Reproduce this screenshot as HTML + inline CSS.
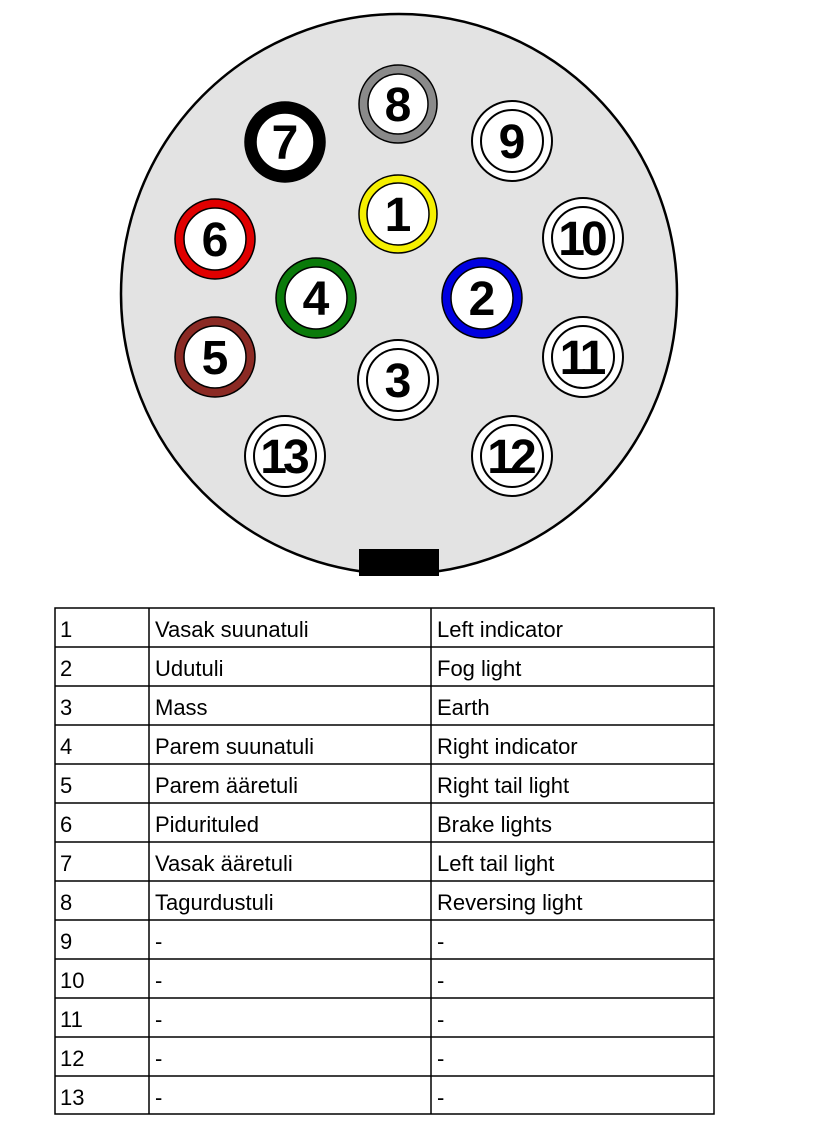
<!DOCTYPE html>
<html><head><meta charset="utf-8"><style>
html,body{margin:0;padding:0;background:#fff;width:834px;height:1143px;overflow:hidden}
</style></head><body>
<svg width="834" height="1143" viewBox="0 0 834 1143" xmlns="http://www.w3.org/2000/svg">
<ellipse cx="399" cy="294" rx="278" ry="280" fill="#e3e3e3" stroke="#000" stroke-width="2.5"/>
<rect x="359" y="549" width="80" height="27" fill="#000"/>
<g font-family="Liberation Sans, sans-serif" font-weight="bold" text-anchor="middle" fill="#000">
<g stroke="#000" stroke-width="1.5">
<circle cx="398" cy="104" r="39" fill="#8a8a8a"/><circle cx="398" cy="104" r="30" fill="#fff"/>
<circle cx="285" cy="142" r="40" fill="#000"/><circle cx="285" cy="142" r="29" fill="#fff"/>
<circle cx="398" cy="214" r="39" fill="#f5f000"/><circle cx="398" cy="214" r="31" fill="#fff"/>
<circle cx="215" cy="239" r="40" fill="#e00000"/><circle cx="215" cy="239" r="31" fill="#fff"/>
<circle cx="316" cy="298" r="40" fill="#0a7a0a"/><circle cx="316" cy="298" r="31" fill="#fff"/>
<circle cx="482" cy="298" r="40" fill="#0000e0"/><circle cx="482" cy="298" r="31" fill="#fff"/>
<circle cx="215" cy="357" r="40" fill="#8b2a24"/><circle cx="215" cy="357" r="31" fill="#fff"/>
</g>
<g stroke="#000" stroke-width="2" fill="#fff">
<circle cx="512" cy="141" r="40"/><circle cx="512" cy="141" r="31"/>
<circle cx="583" cy="238" r="40"/><circle cx="583" cy="238" r="31"/>
<circle cx="583" cy="357" r="40"/><circle cx="583" cy="357" r="31"/>
<circle cx="398" cy="380" r="40"/><circle cx="398" cy="380" r="31"/>
<circle cx="285" cy="456" r="40"/><circle cx="285" cy="456" r="31"/>
<circle cx="512" cy="456" r="40"/><circle cx="512" cy="456" r="31"/>
</g>
<g font-size="48">
<text x="398" y="121">8</text>
<text x="285" y="159">7</text>
<text x="512" y="158">9</text>
<text x="398" y="231">1</text>
<text x="215" y="256">6</text>
<text x="316" y="315">4</text>
<text x="482" y="315">2</text>
<text x="215" y="374">5</text>
<text x="398" y="397">3</text>
</g>
<g font-size="48" letter-spacing="-4">
<text x="581" y="255">10</text>
<text x="581" y="374">11</text>
<text x="283" y="473">13</text>
<text x="510" y="473">12</text>
</g>
</g>
<g stroke="#000" stroke-width="1.5" fill="none">
<rect x="55" y="608" width="659" height="506"/>
<line x1="149" y1="608" x2="149" y2="1114"/>
<line x1="431" y1="608" x2="431" y2="1114"/>
<line x1="55" y1="647" x2="714" y2="647"/>
<line x1="55" y1="686" x2="714" y2="686"/>
<line x1="55" y1="725" x2="714" y2="725"/>
<line x1="55" y1="764" x2="714" y2="764"/>
<line x1="55" y1="803" x2="714" y2="803"/>
<line x1="55" y1="842" x2="714" y2="842"/>
<line x1="55" y1="881" x2="714" y2="881"/>
<line x1="55" y1="920" x2="714" y2="920"/>
<line x1="55" y1="959" x2="714" y2="959"/>
<line x1="55" y1="998" x2="714" y2="998"/>
<line x1="55" y1="1037" x2="714" y2="1037"/>
<line x1="55" y1="1076" x2="714" y2="1076"/>
</g>
<g font-family="Liberation Sans, sans-serif" font-size="22" fill="#000">
<text x="60" y="637">1</text><text x="155" y="637">Vasak suunatuli</text><text x="437" y="637">Left indicator</text>
<text x="60" y="676">2</text><text x="155" y="676">Udutuli</text><text x="437" y="676">Fog light</text>
<text x="60" y="715">3</text><text x="155" y="715">Mass</text><text x="437" y="715">Earth</text>
<text x="60" y="754">4</text><text x="155" y="754">Parem suunatuli</text><text x="437" y="754">Right indicator</text>
<text x="60" y="793">5</text><text x="155" y="793">Parem ääretuli</text><text x="437" y="793">Right tail light</text>
<text x="60" y="832">6</text><text x="155" y="832">Pidurituled</text><text x="437" y="832">Brake lights</text>
<text x="60" y="871">7</text><text x="155" y="871">Vasak ääretuli</text><text x="437" y="871">Left tail light</text>
<text x="60" y="910">8</text><text x="155" y="910">Tagurdustuli</text><text x="437" y="910">Reversing light</text>
<text x="60" y="949">9</text><text x="155" y="949">-</text><text x="437" y="949">-</text>
<text x="60" y="988">10</text><text x="155" y="988">-</text><text x="437" y="988">-</text>
<text x="60" y="1027">11</text><text x="155" y="1027">-</text><text x="437" y="1027">-</text>
<text x="60" y="1066">12</text><text x="155" y="1066">-</text><text x="437" y="1066">-</text>
<text x="60" y="1105">13</text><text x="155" y="1105">-</text><text x="437" y="1105">-</text>
</g>
</svg>
</body></html>
